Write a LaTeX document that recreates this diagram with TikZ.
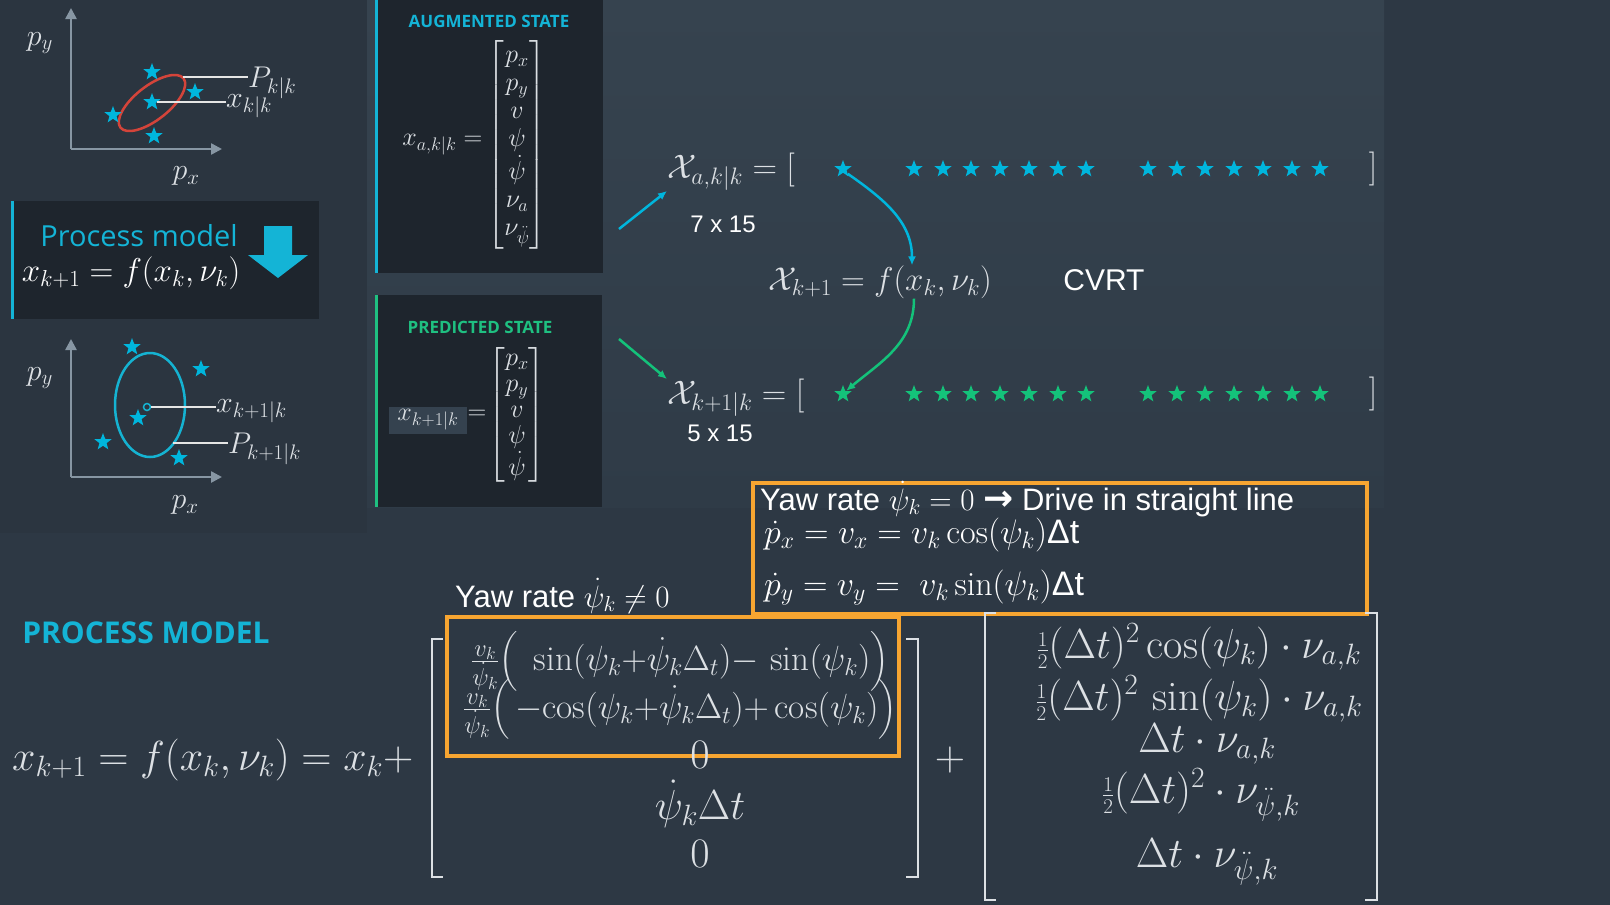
\RequirePackage{fix-cm}
\documentclass[tikz,border=0pt]{standalone}
\usepackage{amsmath}
\usepackage{fontspec}
\newfontfamily\headfont{Open Sans}
\newfontfamily\notefont{Liberation Sans}
\newfontfamily\arrowfont{DejaVu Sans}
\usetikzlibrary{positioning,shapes.geometric,arrows.meta}

\definecolor{bgmain}{HTML}{2D3844}
\definecolor{bgleft}{HTML}{2B3540}
\definecolor{bgtoptop}{HTML}{36434F}
\definecolor{bgtopbot}{HTML}{2F3B47}
\definecolor{panel}{HTML}{1E252D}
\definecolor{hilite}{HTML}{35424F}
\definecolor{headcyan}{HTML}{14B4D6}
\definecolor{headgreen}{HTML}{1FC081}
\definecolor{starcyan}{HTML}{00B6DD}
\definecolor{stargreen}{HTML}{14C27A}
\definecolor{ellred}{HTML}{D4443A}
\definecolor{ellcyan}{HTML}{15B3D2}
\definecolor{axisgray}{HTML}{8796A3}
\definecolor{mathgray}{HTML}{DCE0E4}
\definecolor{boxorange}{HTML}{F7A531}

\newcommand\fsz[2]{\fontsize{#1}{#2}\selectfont}
\newcommand\half{{\scriptstyle\frac{1}{2}}}

\tikzset{
  txt/.style={inner sep=0pt, text=mathgray},
  star node/.style={star, star points=5, star point ratio=2.4, minimum size=18pt,
                    inner sep=0pt, fill=#1, draw=none},
  axis arrow/.style={draw=axisgray, line width=2.5pt, -{Triangle[length=11pt,width=11pt]}},
  lead line/.style={draw=white!90!black, line width=2pt},
  flow arrow/.style={draw=#1, line width=2.5pt, -{Latex[length=9pt,width=8pt]}},
  bracket line/.style={draw=mathgray, line width=2.5pt},
  note box/.style={draw=boxorange, line width=4pt},
  head/.style={inner sep=0pt, font=\headfont\bfseries\fsz{17}{20}},
  note/.style={inner sep=0pt, text=white, font=\notefont\fsz{31}{36}}
}

\begin{document}
\begin{tikzpicture}[x=1pt,y=-1pt]
  \useasboundingbox (0,0) rectangle (1610,905);

  % backgrounds and panels
  \fill[bgmain] (0,0) rectangle (1610,905);
  \shade[top color=bgtoptop, bottom color=bgtopbot] (367,0) rectangle (1384,507);
  \fill[bgleft] (0,0) rectangle (367,533);
  \fill[panel] (375,0) rectangle (603,273);
  \fill[panel] (375,295) rectangle (602,507);
  \fill[panel] (11,201) rectangle (319,319);
  \draw[headcyan, line width=3pt] (376.5,0) -- (376.5,273);
  \draw[headgreen, line width=3pt] (376.5,295) -- (376.5,507);
  \draw[headcyan, line width=3pt] (12.5,201) -- (12.5,319);

  % sigma points at time k
  \coordinate (o1) at (71,149);
  \draw[axis arrow] (o1) -- (71,8);
  \draw[axis arrow] (o1) -- (222,149);
  \node[txt, font=\fsz{30}{36}] (py1) at (40,43) {$p_y$};
  \node[txt, font=\fsz{30}{36}] (px1) at (186,176) {$p_x$};
  \draw[ellred, line width=2.5pt, rotate around={38:(152,103)}] (152,103) ellipse (40 and 17);
  \coordinate (pe1) at (183,77);
  \node[txt, font=\fsz{30}{36}, anchor=west] (Pkk) at (248,83) {$P_{k|k}$};
  \node[txt, font=\fsz{30}{36}, anchor=west] (xkk) at (226,106) {$x_{k|k}$};
  \foreach \n/\x/\y in {1/152/72, 2/195/92, 3/152/102, 4/113/115, 5/154/136}
    \node[star node=starcyan] (s\n) at (\x,\y) {};
  \draw[lead line] (pe1) -- (pe1 -| Pkk.west);
  \draw[lead line] (s3.east) -- (s3 -| xkk.west);

  % process model box
  \node[txt, text=headcyan, font=\headfont\fsz{29}{34}] (pmtitle) at (139,236) {Process model};
  \node[txt, text=white, font=\fsz{33}{38}] (pmeq) at (131,273) {$x_{k+1} = f(x_k,\nu_k)$};
  \fill[headcyan] (264,226) -- (292,226) -- (292,255) -- (308,255) -- (278,278)
                  -- (248,255) -- (264,255) -- cycle;

  % predicted sigma points
  \coordinate (o2) at (71,477);
  \draw[axis arrow] (o2) -- (71,339);
  \draw[axis arrow] (o2) -- (222,477);
  \node[txt, font=\fsz{30}{36}] (py2) at (40,378) {$p_y$};
  \node[txt, font=\fsz{30}{36}] (px2) at (185,505) {$p_x$};
  \draw[ellcyan, line width=2.5pt] (150,405) ellipse (35 and 52);
  \node[circle, draw=ellcyan, line width=1.5pt, minimum size=7pt, inner sep=0pt] (mean2) at (147,407) {};
  \coordinate (pe2) at (173,443);
  \node[txt, font=\fsz{30}{36}, anchor=west] (xk1) at (216,411) {$x_{k+1|k}$};
  \node[txt, font=\fsz{30}{36}, anchor=west] (Pk1) at (228,449) {$P_{k+1|k}$};
  \foreach \n/\x/\y in {1/132/347, 2/201/369, 3/138/418, 4/103/442, 5/179/458}
    \node[star node=starcyan] (u\n) at (\x,\y) {};
  \draw[lead line] (mean2.east) -- (mean2 -| xk1.west);
  \draw[lead line] (pe2) -- (pe2 -| Pk1.west);

  % augmented state panel
  \node[head, text=headcyan] (augtitle) at (489,21) {AUGMENTED STATE};
  \node[txt, font=\fsz{26}{28}] (augvec) at (517,145)
    {$\begin{bmatrix} p_x\\ p_y\\ v\\ \psi\\ \dot\psi\\ \nu_a\\ \nu_{\ddot\psi} \end{bmatrix}$};
  \node[txt, font=\fsz{26}{28}, left=5pt of augvec] (auglabel) {$x_{a,k|k} =$};

  % predicted state panel
  \node[head, text=headgreen] (predtitle) at (480,327) {PREDICTED STATE};
  \node[txt, font=\fsz{26}{26}] (predvec) at (517,415)
    {$\begin{bmatrix} p_x\\ p_y\\ v\\ \psi\\ \dot\psi \end{bmatrix}$};
  \node[txt, font=\fsz{26}{28}] (predeq) at (477,415) {$=$};
  \node[fill=hilite, text=mathgray, inner sep=0pt, minimum width=78pt, minimum height=27pt,
        font=\fsz{26}{28}] (predlabel) at (428,420) {$x_{k+1|k}$};

  % sigma point matrices
  \coordinate (augout) at (619,229);
  \coordinate (predout) at (619,339);
  \node[txt, font=\fsz{34}{40}, anchor=west] (chia) at (667,172) {$\mathcal{X}_{a,k|k} = [$};
  \node[txt, font=\fsz{34}{40}, anchor=west] (chib) at (667,398) {$\mathcal{X}_{k+1|k} = [$};
  \foreach \n/\x in {1/843, 2/914, 3/943, 4/971, 5/1000, 6/1029, 7/1058, 8/1086,
                     9/1148, 10/1177, 11/1205, 12/1234, 13/1263, 14/1292, 15/1320} {
    \node[star node=starcyan] (t\n) at (\x,169) {};
    \node[star node=stargreen] (b\n) at (\x,394) {};
  }
  \node[txt, font=\fsz{34}{40}] (tclose) at (1373,169) {$]$};
  \node[txt, font=\fsz{34}{40}] (bclose) at (1373,394) {$]$};
  \node[note, font=\notefont\fsz{24}{28}] (dima) at (723,224) {7 x 15};
  \node[note, font=\notefont\fsz{24}{28}] (dimb) at (720,433) {5 x 15};
  \node[txt, font=\fsz{33}{40}] (chif) at (880,282) {$\mathcal{X}_{k+1} = f(x_k,\nu_k)$};
  \node[note, font=\notefont\fsz{30}{36}] (cvrt) at (1104,280) {CVRT};

  \draw[flow arrow=starcyan] (augout) -- (chia.south west);
  \draw[flow arrow=stargreen] (predout) -- (chib.north west);
  \draw[flow arrow=starcyan] (t1.south east) to[out=-35,in=90] ([xshift=32pt]chif.north);
  \draw[flow arrow=stargreen] ([xshift=34pt]chif.south) to[out=-90,in=40] (b1.north east);

  % process model equation
  \node[head, text=headcyan, font=\headfont\bfseries\fsz{30}{36}] (pmhead) at (146,633) {PROCESS MODEL};
  \node[txt, font=\fsz{42}{48}, anchor=base west] (bigeq) at (12,770) {$x_{k+1} = f(x_k,\nu_k) = x_k{+}$};

  \draw[note box] (753,483) rectangle (1367,614);
  \draw[note box] (447,617) rectangle (899,756);

  \draw[bracket line] (443,639) -| (432,877) -- (443,877);
  \draw[bracket line] (906,639) -| (918,877) -- (906,877);
  \node[txt, font=\fsz{35}{40}, anchor=base] (ma1) at (680,670)
    {$\frac{v_k}{\dot\psi_k}\Big(\ \sin(\psi_k{+}\dot\psi_k\Delta_t){-}\,\sin(\psi_k)\Big)$};
  \node[txt, font=\fsz{35}{40}, anchor=base] (ma2) at (680,718)
    {$\frac{v_k}{\dot\psi_k}\Big(\,{-}\mathrm{cos}(\psi_k{+}\dot\psi_k\Delta_t){+}\cos(\psi_k)\Big)$};
  \node[txt, font=\fsz{42}{48}, anchor=base] (ma3) at (700,768) {$0$};
  \node[txt, font=\fsz{42}{48}, anchor=base] (ma4) at (700,819) {$\dot\psi_k\Delta t$};
  \node[txt, font=\fsz{42}{48}, anchor=base] (ma5) at (700,867) {$0$};

  \node[txt, font=\fsz{42}{48}] (plus) at (950,760) {$+$};

  \draw[bracket line] (996,613) -| (985,900) -- (996,900);
  \draw[bracket line] (1365,613) -| (1377,900) -- (1365,900);
  \node[txt, font=\fsz{42}{48}, anchor=base] (mb1) at (1199,658)
    {$\half(\Delta t)^2\cos(\psi_k)\cdot\nu_{a,k}$};
  \node[txt, font=\fsz{42}{48}, anchor=base] (mb2) at (1199,710)
    {$\half(\Delta t)^2\,\sin(\psi_k)\cdot\nu_{a,k}$};
  \node[txt, font=\fsz{42}{48}, anchor=base] (mb3) at (1207,752) {$\Delta t\cdot\nu_{a,k}$};
  \node[txt, font=\fsz{42}{48}, anchor=base] (mb4) at (1201,803)
    {$\half(\Delta t)^2\cdot\nu_{\ddot\psi,k}$};
  \node[txt, font=\fsz{42}{48}, anchor=base] (mb5) at (1207,867) {$\Delta t\cdot\nu_{\ddot\psi,k}$};

  % yaw rate notes
  \node[note, anchor=base west] (straight) at (760,510)
    {Yaw rate $\dot\psi_k = 0$ {\arrowfont\bfseries\fsz{36}{40}→} Drive in straight line};
  \node[note, font=\fsz{34}{40}, anchor=base west] (pxdot) at (764,543)
    {$\dot p_x = v_x = v_k\cos(\psi_k)${\notefont Δt}};
  \node[note, font=\fsz{34}{40}, anchor=base west] (pydot) at (764,595)
    {$\dot p_y = v_y = \ v_k\sin(\psi_k)${\notefont Δt}};
  \node[note, anchor=base west] (turning) at (455,607) {Yaw rate $\dot\psi_k \neq 0$};
\end{tikzpicture}
\end{document}
